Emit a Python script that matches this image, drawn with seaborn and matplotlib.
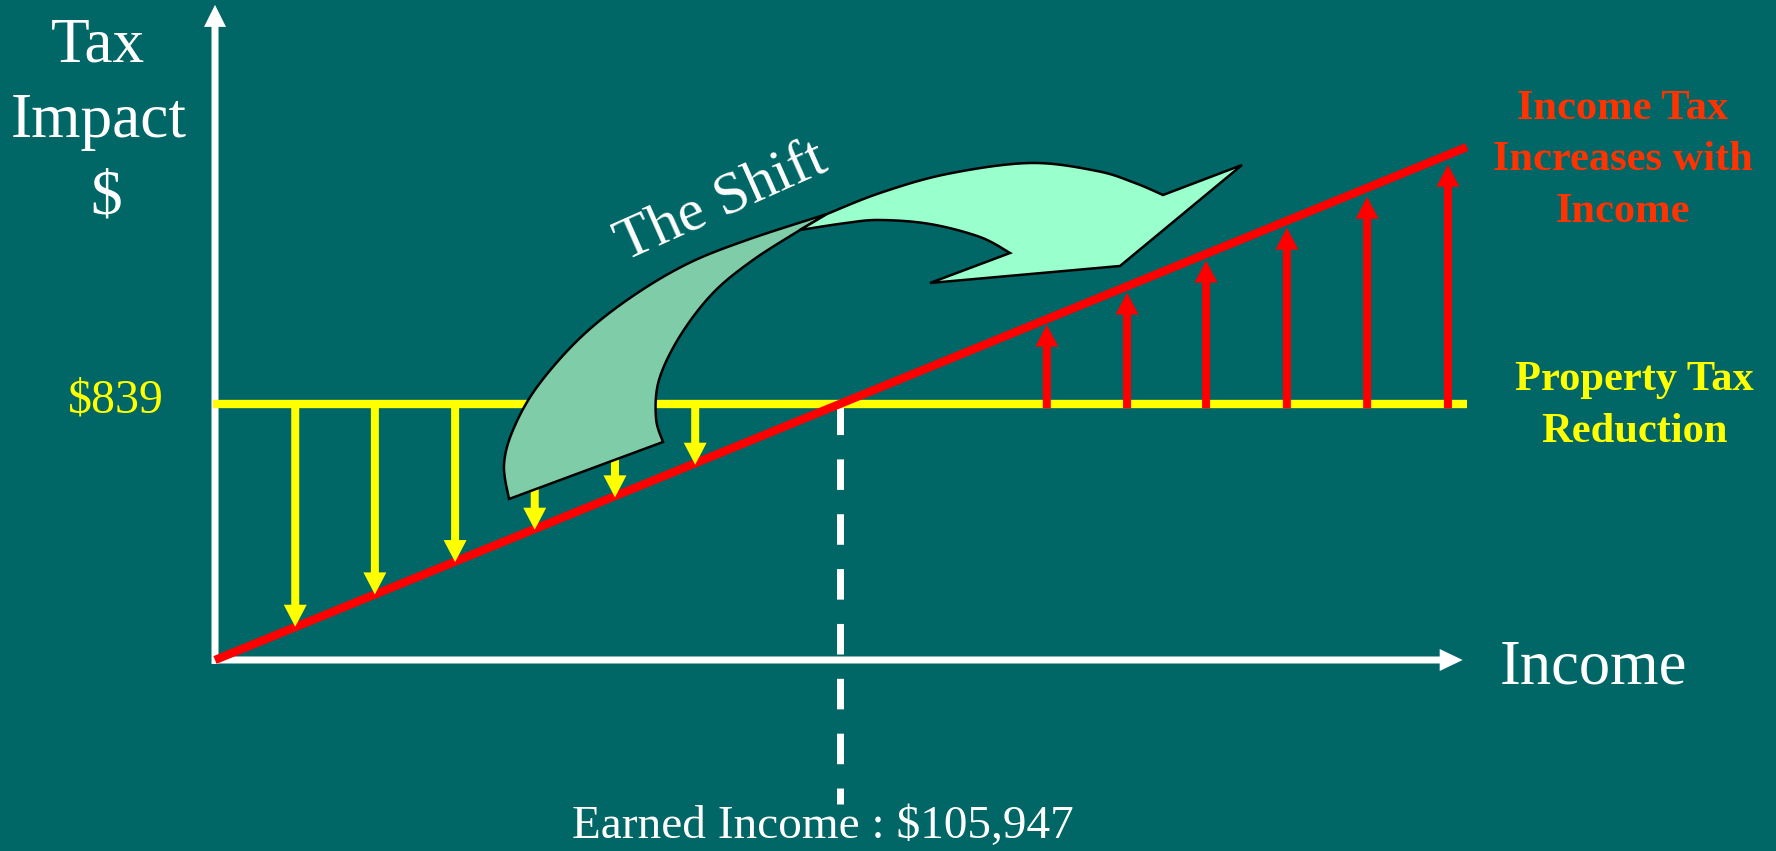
import numpy as np
import matplotlib
matplotlib.use("Agg")
import matplotlib.pyplot as plt
import seaborn as sns
from matplotlib.patches import Polygon, ArrowStyle

# ---------------- data ----------------
break_even_income = 105947          # Earned Income : $105,947
property_tax_reduction = 839        # $839
property_line_x = [-400, 212200]
property_line_y = [839, 839]
income_tax_x = [0, 212200]
income_tax_y = [0, 1681]
reduction_arrow_x = [13600, 27100, 40700, 54200, 67800, 81400]
reduction_arrow_tip = [109, 215, 321, 427, 533, 640]
increase_arrow_x = [141000, 154600, 168000, 181700, 195300, 209000]
increase_arrow_tip = [1099, 1204, 1309, 1417, 1518, 1623]
x_axis_end = 211500
y_axis_end = 2147
dash_bottom = -472

# ---------------- style ----------------
BG = "#006666"
YELLOW = "#FFFF00"
RED = "#FF0000"
RED_TEXT = "#FF3300"
WHITE = "#FFFFFF"
LIGHT = "#99FFCC"
DARK = "#7FCCA8"

sns.set_theme(style="white")
plt.rcParams["font.family"] = ["Liberation Serif", "DejaVu Serif"]

W, H = 1776, 851
fig = plt.figure(figsize=(W / 100, H / 100), dpi=100, facecolor=BG)
ax = fig.add_axes([0, 0, 1, 1])
ax.set_xlim(-36446, 264612)
ax.set_ylim(-626, 2163)
ax.set_axis_off()

PT = 0.72  # points per pixel at 100 dpi


def arrow(x0, y0, x1, y1, color, tail_px, head_w_px, head_l_px, z):
    style = ArrowStyle.Simple(head_length=head_l_px * PT,
                              head_width=head_w_px * PT,
                              tail_width=tail_px * PT)
    ax.annotate("", xy=(x1, y1), xytext=(x0, y0),
                arrowprops=dict(arrowstyle=style, mutation_scale=1,
                                fc=color, ec="none", lw=0,
                                shrinkA=0, shrinkB=0),
                zorder=z)


# axes arrows
arrow(0, -13, 0, y_axis_end, WHITE, 7, 22, 22, 2.2)
arrow(-450, 0, x_axis_end, 0, WHITE, 7, 22, 23, 2.2)

# dashed break-even line
ax.plot([break_even_income, break_even_income],
        [property_tax_reduction, dash_bottom],
        color=WHITE, lw=5, dashes=(4.4, 3.5), zorder=1.5)

# property tax level & income tax line
sns.lineplot(x=property_line_x, y=property_line_y, ax=ax, color=YELLOW,
             linewidth=6, solid_capstyle="butt", zorder=2.5, legend=False)
sns.lineplot(x=income_tax_x, y=income_tax_y, ax=ax, color=RED,
             linewidth=6, solid_capstyle="butt", zorder=3, legend=False)

# red (increase) arrows
for x, t in zip(increase_arrow_x, increase_arrow_tip):
    arrow(x, property_tax_reduction - 14, x, t, RED, 8, 23, 22, 3.5)

# yellow (reduction) arrows
for x, t in zip(reduction_arrow_x, reduction_arrow_tip):
    arrow(x, property_tax_reduction, x, t, YELLOW, 8, 23, 22, 4)


# ---------------- "The Shift" curved block arrow (decoration) ----------------
def catmull(pts, n=14):
    pts = np.asarray(pts, float)
    p = np.vstack([pts[0], pts, pts[-1]])
    out = []
    t = np.linspace(0, 1, n, endpoint=False)[:, None]
    for i in range(1, len(p) - 2):
        p0, p1, p2, p3 = p[i - 1], p[i], p[i + 1], p[i + 2]
        out.append(0.5 * ((2 * p1) + (-p0 + p2) * t
                          + (2 * p0 - 5 * p1 + 4 * p2 - p3) * t ** 2
                          + (-p0 + 3 * p1 - 3 * p2 + p3) * t ** 3))
    out.append(p[-2][None])
    return np.vstack(out)


def to_axes(pts):
    pts = np.asarray(pts, float)
    return np.column_stack([pts[:, 0] / W, 1 - pts[:, 1] / H])


inner_back = catmull([(663, 442), (656, 418), (659, 380), (680, 336),
                      (713, 293), (753, 260), (800, 230)])
outer_back = catmull([(827, 214), (747, 240), (687, 264), (630, 298),
                      (580, 338), (537, 387), (513, 430), (504, 465),
                      (509, 499)])
dark_pts = np.vstack([[(509, 499)], inner_back, outer_back])

outer_front = catmull([(827, 214), (880, 193), (947, 174), (1030, 163),
                       (1097, 171), (1135, 183), (1163, 195)])
inner_front = catmull([(1010, 253), (980, 237), (930, 224), (880, 220),
                       (846, 223), (800, 230)])
light_pts = np.vstack([outer_front, [(1242, 165), (1120, 266), (930, 283)],
                       inner_front])

ax.add_patch(Polygon(to_axes(dark_pts), closed=True, transform=ax.transAxes,
                     fc=DARK, ec="black", lw=1.8, joinstyle="miter", zorder=5))
ax.add_patch(Polygon(to_axes(light_pts), closed=True, transform=ax.transAxes,
                     fc=LIGHT, ec="black", lw=1.8, joinstyle="miter", zorder=5))


# ---------------- text ----------------
def label(xp, yp, s, **kw):
    ax.text(xp / W, 1 - yp / H, s, transform=ax.transAxes, va="baseline",
            zorder=6, **kw)


label(98, 62, "Tax", color=WHITE, fontsize=45.6, ha="center")
label(99, 137, "Impact", color=WHITE, fontsize=45.6, ha="center")
label(106, 213, "$", color=WHITE, fontsize=45.6, ha="center")
label(116, 412, f"${property_tax_reduction}", color=YELLOW, fontsize=34.5,
      ha="center")
label(1500, 683, "Income", color=WHITE, fontsize=45, ha="left")
label(823, 838, f"Earned Income : ${break_even_income:,}", color=WHITE,
      fontsize=34, ha="center")

for yp, s in zip([119, 170, 222], ["Income Tax", "Increases with", "Income"]):
    label(1623, yp, s, color=RED_TEXT, fontsize=30.6, fontweight="bold",
          ha="center")
for yp, s in zip([390, 442], ["Property Tax", "Reduction"]):
    label(1634, yp, s, color=YELLOW, fontsize=30.6, fontweight="bold",
          ha="center")

ax.text(727 / W, 1 - 215 / H, "The Shift", transform=ax.transAxes,
        color=WHITE, fontsize=43, rotation=24, rotation_mode="anchor",
        ha="center", va="baseline", zorder=6)

fig.savefig("out.png", dpi=100, facecolor=BG)
